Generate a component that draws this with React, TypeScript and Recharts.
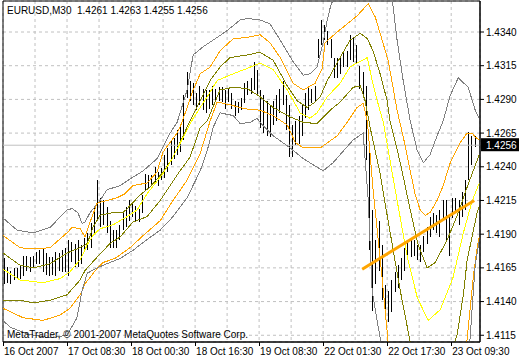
import {
  ComposedChart,
  Bar,
  Line,
  XAxis,
  YAxis,
  CartesianGrid,
  ReferenceLine,
  ReferenceArea,
} from 'recharts';

const SYMBOL = 'EURUSD,M30';
const LAST_OHLC = ['1.4261', '1.4263', '1.4255', '1.4256'];
const LAST_PRICE = 1.4256;
const COPYRIGHT = 'MetaTrader, © 2001-2007 MetaQuotes Software Corp.';

// one entry per M30 bar, left to right
const BAR_HIGH = [
  1.4172, 1.4166, 1.4163, 1.4165, 1.4165, 1.4167, 1.4174, 1.4174, 1.4173, 1.4174,
  1.4177, 1.4178, 1.418, 1.4176, 1.4173, 1.4173, 1.4177, 1.4176, 1.4178, 1.418,
  1.4186, 1.4184, 1.4183, 1.4186, 1.4182, 1.4187, 1.4191, 1.4198, 1.4211, 1.423,
  1.4217, 1.4215, 1.421, 1.42, 1.4193, 1.4193, 1.4197, 1.4206, 1.421, 1.4215,
  1.4213, 1.4211, 1.4209, 1.4219, 1.4235, 1.4234, 1.4234, 1.424, 1.4236, 1.4239,
  1.4249, 1.4254, 1.426, 1.4261, 1.4267, 1.4272, 1.4293, 1.431, 1.4304, 1.4302,
  1.4295, 1.43, 1.4298, 1.4297, 1.4297, 1.43, 1.4298, 1.4299, 1.4299, 1.4297,
  1.4298, 1.4295, 1.4289, 1.4288, 1.4291, 1.4302, 1.4304, 1.4306, 1.4318, 1.4312,
  1.4297, 1.4293, 1.4289, 1.4286, 1.4289, 1.4293, 1.4298, 1.4304, 1.4293, 1.4286,
  1.4271, 1.4274, 1.4278, 1.4286, 1.4295, 1.4299, 1.4298, 1.43, 1.4335, 1.4349,
  1.4345, 1.4341, 1.4335, 1.4321, 1.4321, 1.4321, 1.4326, 1.4326, 1.4338, 1.4336,
  1.433, 1.4315, 1.431, 1.43, 1.4252, 1.4208, 1.4186, 1.42, 1.4182, 1.4152,
  1.4148, 1.4156, 1.4162, 1.4167, 1.4172, 1.418, 1.4184, 1.4187, 1.4186, 1.4182,
  1.4182, 1.4189, 1.4195, 1.4203, 1.4206, 1.4204, 1.4208, 1.4215, 1.4215, 1.4204,
  1.4217, 1.4217, 1.4215, 1.4221, 1.423, 1.4266, 1.4263, 1.4263,
];

const BAR_LOW = [
  1.4153, 1.4154, 1.4153, 1.4156, 1.4157, 1.4157, 1.4159, 1.4163, 1.4162, 1.4165,
  1.4168, 1.4168, 1.4162, 1.416, 1.4159, 1.416, 1.4159, 1.4163, 1.4162, 1.4162,
  1.4159, 1.4169, 1.4166, 1.4166, 1.4168, 1.4177, 1.4178, 1.418, 1.4191, 1.42,
  1.4195, 1.4197, 1.4191, 1.418, 1.418, 1.418, 1.4186, 1.4193, 1.4195, 1.42,
  1.4203, 1.42, 1.4199, 1.4206, 1.4223, 1.4224, 1.4226, 1.4228, 1.4226, 1.423,
  1.4232, 1.4236, 1.4241, 1.4246, 1.4249, 1.4251, 1.426, 1.4291, 1.4289, 1.4286,
  1.4282, 1.4286, 1.4282, 1.428, 1.4283, 1.4286, 1.4288, 1.4289, 1.4288, 1.4283,
  1.4288, 1.4283, 1.4278, 1.428, 1.4282, 1.4287, 1.4293, 1.4294, 1.4297, 1.4293,
  1.4269, 1.4265, 1.4263, 1.4262, 1.4271, 1.4274, 1.428, 1.4286, 1.4267, 1.4247,
  1.4247, 1.4256, 1.4257, 1.4263, 1.4276, 1.4282, 1.4287, 1.4289, 1.4321, 1.433,
  1.4334, 1.433, 1.4321, 1.4306, 1.4306, 1.4309, 1.4314, 1.4314, 1.4319, 1.4318,
  1.4317, 1.4298, 1.4292, 1.4245, 1.4178, 1.4133, 1.4153, 1.4163, 1.4141, 1.4126,
  1.4125, 1.4132, 1.4147, 1.415, 1.4156, 1.4163, 1.4171, 1.4173, 1.4174, 1.4171,
  1.4169, 1.4177, 1.4183, 1.4188, 1.4193, 1.4191, 1.4188, 1.4202, 1.4186, 1.4174,
  1.4202, 1.4206, 1.4197, 1.4203, 1.4208, 1.423, 1.4241, 1.4255,
];

// indicator bands: [bar position, price]
const GRAY_UPPER: [number, number][] = [
  [0, 1.4202], [4.4, 1.4193], [9.4, 1.4191], [14.7, 1.4195], [20, 1.4208], [21.6, 1.4209],
  [23.4, 1.4206], [24.7, 1.4198], [25.6, 1.4199], [27.2, 1.4206], [30.3, 1.4215], [32.5, 1.4223],
  [36.6, 1.4226], [39.7, 1.4231], [43.8, 1.4237], [48.1, 1.4246], [52.2, 1.4265], [54.4, 1.4273],
  [57.5, 1.4297], [59.4, 1.4323], [62.5, 1.4329], [66.9, 1.4336], [70, 1.4341], [74.1, 1.4349],
  [76.3, 1.435], [80.3, 1.4349], [83.4, 1.4346], [86.6, 1.4334], [90.6, 1.4318], [93.8, 1.4308],
  [95.9, 1.4309], [98.1, 1.4314], [100, 1.4332], [101.3, 1.4349], [102.2, 1.4358], [104.7, 1.4375],
  [108.4, 1.4393], [113.1, 1.4401], [117.8, 1.4386], [121.6, 1.4364], [123.1, 1.4334], [125, 1.4304],
  [127.2, 1.4274], [129.4, 1.4252], [131.3, 1.4243], [133.4, 1.4249], [135.6, 1.4263], [137.5, 1.4274],
  [139.7, 1.4293], [142.2, 1.4306], [145.3, 1.4299], [147.5, 1.4282], [148.8, 1.4276],
];

const ORANGE_UPPER: [number, number][] = [
  [0, 1.4189], [5.3, 1.418], [9.4, 1.4179], [14.7, 1.418], [20, 1.4191], [21.6, 1.4195],
  [24.1, 1.4194], [25.6, 1.4188], [27.2, 1.4199], [29.4, 1.4213], [32.5, 1.4215], [35.6, 1.4217],
  [38.1, 1.422], [40.6, 1.4226], [45, 1.4228], [48.1, 1.4236], [50, 1.4251], [54.4, 1.4265],
  [55.9, 1.4273], [57.8, 1.4286], [59.4, 1.4297], [61.6, 1.4309], [64.7, 1.4314], [67.8, 1.4326],
  [71.9, 1.4335], [76.3, 1.4336], [80.3, 1.4338], [83.4, 1.4332], [86.6, 1.4321], [90.6, 1.4302],
  [93.8, 1.4297], [97.5, 1.4302], [99.7, 1.4313], [100.6, 1.4332], [104.4, 1.434], [107.5, 1.4346],
  [110.6, 1.4352], [114.1, 1.4361], [116.3, 1.4351], [117.8, 1.4339], [120.3, 1.4319], [121.6, 1.4302],
  [123.1, 1.4282], [125.6, 1.4256], [127.2, 1.4237], [128.8, 1.4219], [130.3, 1.4208], [131.9, 1.4204],
  [133.4, 1.4206], [135.6, 1.4215], [137.5, 1.4226], [139.7, 1.4243], [142.8, 1.4258], [145, 1.4265],
  [146.6, 1.4265], [147.5, 1.4262], [148.8, 1.426],
];

const OLIVE_UPPER: [number, number][] = [
  [0, 1.4176], [5.3, 1.4167], [9.4, 1.4165], [14.7, 1.4168], [20, 1.4176], [24.1, 1.418],
  [26.3, 1.4183], [28.1, 1.4195], [30.3, 1.4204], [34.4, 1.4206], [37.5, 1.4206], [38.8, 1.4209],
  [42.8, 1.4219], [45.9, 1.4225], [50, 1.4236], [53.1, 1.4247], [55.9, 1.4261], [58.4, 1.4274],
  [61.6, 1.4289], [64.7, 1.4304], [67.8, 1.4314], [70.9, 1.4321], [76.3, 1.4323], [80.3, 1.4325],
  [84.4, 1.4319], [88.8, 1.43], [91.9, 1.4289], [95, 1.4284], [97.5, 1.4288], [99.1, 1.4292],
  [101.3, 1.4304], [105.3, 1.4321], [108.4, 1.4334], [111.6, 1.4339], [113.8, 1.4335], [115.6, 1.4326],
  [117.8, 1.4309], [120, 1.4289], [120.9, 1.4274], [124.1, 1.4243], [127.2, 1.4208], [129.7, 1.4182],
  [132.5, 1.4165], [135, 1.4169], [138.8, 1.4186], [141.9, 1.4204], [145, 1.4225], [147.5, 1.4241],
  [148.8, 1.4249],
];

const YELLOW_MID: [number, number][] = [
  [0, 1.4164], [5.3, 1.4156], [12.5, 1.4154], [17.8, 1.4157], [20.9, 1.4162], [24.1, 1.4171],
  [26.3, 1.4182], [28.1, 1.4189], [30.3, 1.4194], [34.4, 1.4197], [38.8, 1.4203], [41.9, 1.4208],
  [45, 1.422], [50, 1.4235], [53.1, 1.4247], [56.3, 1.4262], [59.4, 1.4276], [63.8, 1.4292],
  [66.9, 1.4304], [71.9, 1.4309], [76.3, 1.4313], [80.3, 1.4317], [84.4, 1.4312], [88.8, 1.4297],
  [92.8, 1.428], [95.9, 1.4276], [98.1, 1.428], [101.3, 1.4292], [105.3, 1.4302], [108.4, 1.4314],
  [110.6, 1.4317], [113.8, 1.4321], [115.3, 1.4304], [116.9, 1.4289], [118.8, 1.4273], [122.5, 1.4223],
  [126.3, 1.4173], [129.4, 1.4143], [132.8, 1.4126], [136.6, 1.4134], [140.6, 1.4158], [143.8, 1.4191],
  [146.6, 1.4215], [148.8, 1.4228],
];

const OLIVE_LOWER: [number, number][] = [
  [0, 1.4141], [5.3, 1.4141], [9.4, 1.4139], [14.7, 1.4141], [20, 1.4145], [24.1, 1.4156],
  [25.6, 1.4163], [29.4, 1.4173], [33.4, 1.4183], [36.6, 1.4188], [40.6, 1.4199], [45, 1.4203],
  [49.1, 1.4215], [52.2, 1.4226], [55.3, 1.4237], [58.4, 1.4247], [61.6, 1.4269], [63.8, 1.4274],
  [67.8, 1.4297], [71.9, 1.4299], [76.3, 1.4298], [80.3, 1.4292], [84.4, 1.4284], [89.7, 1.4277],
  [93.8, 1.4273], [98.1, 1.4272], [102.2, 1.4282], [105.3, 1.4288], [109.4, 1.4299], [111.6, 1.43],
  [113.1, 1.4289], [114.7, 1.4269], [117.8, 1.4235], [120, 1.4204], [121.9, 1.4178], [124.1, 1.4148],
  [127.2, 1.411], [131.9, 1.4074], [136.6, 1.4074], [139.7, 1.41], [141.9, 1.4116], [143.8, 1.4145],
  [145, 1.4171], [146.6, 1.4189], [148.1, 1.4206], [148.8, 1.4211],
];

const ORANGE_LOWER: [number, number][] = [
  [0, 1.4135], [6.3, 1.4128], [12.5, 1.4126], [17.8, 1.413], [20.9, 1.4135], [24.1, 1.4145],
  [25.6, 1.4153], [28.8, 1.4163], [31.3, 1.4169], [35, 1.4172], [39.7, 1.418], [43.8, 1.4189],
  [49.1, 1.42], [53.1, 1.4215], [57.5, 1.423], [61.6, 1.425], [64.7, 1.4274], [66.9, 1.4288],
  [70.9, 1.4286], [75.6, 1.4283], [80.3, 1.4282], [84.4, 1.4278], [88.8, 1.4271], [91.3, 1.4258],
  [93.8, 1.4254], [99.1, 1.4254], [104.4, 1.4263], [107.8, 1.4274], [110.6, 1.4284], [112.5, 1.4287],
  [113.8, 1.4274], [115.6, 1.4223], [118.4, 1.4158], [120.3, 1.411], [124.1, 1.4052], [136.6, 1.4037],
  [143.8, 1.4082], [145, 1.4113], [146.9, 1.4158], [148.1, 1.418], [148.8, 1.4188],
];

const GRAY_LOWER: [number, number][] = [
  [0, 1.4126], [2.2, 1.4121], [7.5, 1.4116], [14.7, 1.4113], [20, 1.4115], [23.1, 1.4128],
  [24.7, 1.4148], [26.3, 1.4161], [29.4, 1.4165], [33.4, 1.4169], [36.6, 1.4172], [40.6, 1.4178],
  [45, 1.4186], [49.1, 1.4193], [53.1, 1.4203], [57.5, 1.4217], [61.6, 1.4237], [63.8, 1.4252],
  [65.6, 1.4269], [67.8, 1.428], [71.9, 1.4278], [74.1, 1.4272], [77.2, 1.4273], [79.4, 1.4276],
  [80.3, 1.4273], [84.4, 1.4263], [89.7, 1.4254], [93.8, 1.4246], [100, 1.4237], [103.1, 1.4243],
  [105.3, 1.4249], [109.4, 1.426], [112.5, 1.4265], [114.1, 1.4215], [115.3, 1.4148], [117.8, 1.4113],
  [120.9, 1.4052], [133.4, 1.4015], [144.4, 1.4067], [145.9, 1.4113], [147.5, 1.4167], [148.8, 1.4186],
];

const TREND: [number, number][] = [[112.2, 1.4164], [147.2, 1.4215]];

const TIME_LABELS = [
  '16 Oct 2007', '17 Oct 08:30', '18 Oct 00:30', '18 Oct 16:30',
  '19 Oct 08:30', '22 Oct 01:30', '22 Oct 17:30', '23 Oct 09:30',
];
const GRID_X = [0, 10, 20, 30, 40, 50, 60, 70, 80, 90, 100, 110, 120, 130, 140];
const PRICE_TICKS = [1.4115, 1.414, 1.4165, 1.419, 1.4215, 1.424, 1.4265, 1.429, 1.4315, 1.434];

const X_MAX = 149;
const Y_MIN = 1.411;
const Y_MAX = 1.4363;
const FONT = '"Liberation Sans", Arial, sans-serif';

const bars = BAR_HIGH.map((h, i) => ({ x: i + 0.5, hl: [BAR_LOW[i], h] }));
const toPts = (arr: [number, number][]) => arr.map(([x, p]) => ({ x, p }));

const bands = [
  { key: 'grayU', pts: GRAY_UPPER, color: '#808080' },
  { key: 'orangeU', pts: ORANGE_UPPER, color: '#FFA500' },
  { key: 'oliveU', pts: OLIVE_UPPER, color: '#808000' },
  { key: 'yellow', pts: YELLOW_MID, color: '#FFFF00' },
  { key: 'oliveL', pts: OLIVE_LOWER, color: '#808000' },
  { key: 'orangeL', pts: ORANGE_LOWER, color: '#FFA500' },
  { key: 'grayL', pts: GRAY_LOWER, color: '#808080' },
];

const HLBar = (props: any) => {
  const { x, y, width, height } = props;
  if (x == null || y == null) return null;
  const cx = x + width / 2;
  return <line x1={cx} x2={cx} y1={y} y2={y + height} stroke="#000" strokeWidth={1} shapeRendering="crispEdges" />;
};

const TimeTick = (props: any) => {
  const { x, y, payload } = props;
  const k = payload.value / 20;
  if (!Number.isInteger(k) || !TIME_LABELS[k]) return null;
  return (
    <g>
      <line x1={x} x2={x} y1={y} y2={y + 4} stroke="#000" shapeRendering="crispEdges" />
      <text x={x + 1} y={y + 13} fontSize={10} fontFamily={FONT} fill="#000">
        {TIME_LABELS[k]}
      </text>
    </g>
  );
};

const PriceTag = (props: any) => {
  const { viewBox } = props;
  if (!viewBox) return null;
  const right = viewBox.x + viewBox.width;
  return (
    <g>
      <rect x={right + 1} y={viewBox.y - 7} width={38} height={13} fill="#000" />
      <text x={right + 6} y={viewBox.y + 3.5} fontSize={10} fontFamily={FONT} fill="#fff">
        {LAST_PRICE.toFixed(4)}
      </text>
    </g>
  );
};

export default function App() {
  return (
    <div style={{ position: 'absolute', left: 0, top: 0, width: 520, height: 360, background: '#fff' }}>
      <ComposedChart
        width={520}
        height={360}
        data={bars}
        margin={{ top: 1, right: 0, bottom: 0, left: 3 }}
      >
        <CartesianGrid stroke="#c0c0c0" strokeDasharray="3 3" />
        <XAxis
          dataKey="x"
          type="number"
          domain={[0, X_MAX]}
          ticks={GRID_X}
          interval={0}
          allowDataOverflow
          height={18}
          tickSize={0}
          tickMargin={0}
          tickLine={false}
          axisLine={{ stroke: '#000' }}
          tick={<TimeTick />}
        />
        <YAxis
          orientation="right"
          type="number"
          domain={[Y_MIN, Y_MAX]}
          ticks={PRICE_TICKS}
          interval={0}
          allowDataOverflow
          width={40}
          tickSize={4}
          tickMargin={2}
          tickLine={{ stroke: '#000' }}
          axisLine={{ stroke: '#000' }}
          tick={{ fill: '#000', fontSize: 10, fontFamily: FONT }}
          tickFormatter={(v: number) => v.toFixed(4)}
        />
        <ReferenceArea x1={0} x2={X_MAX} y1={Y_MIN} y2={Y_MAX} fill="none" stroke="#000" />
        <ReferenceLine y={LAST_PRICE} stroke="#c0c0c0" label={<PriceTag />} />
        <Bar dataKey="hl" barSize={1} shape={<HLBar />} isAnimationActive={false} />
        {bands.map((b) => (
          <Line
            key={b.key}
            data={toPts(b.pts)}
            dataKey="p"
            type="linear"
            stroke={b.color}
            strokeWidth={1}
            shapeRendering="crispEdges"
            dot={false}
            activeDot={false}
            isAnimationActive={false}
          />
        ))}
        <Line
          data={toPts(TREND)}
          dataKey="p"
          type="linear"
          stroke="#FFA500"
          strokeWidth={3}
          dot={false}
          activeDot={false}
          isAnimationActive={false}
        />
      </ComposedChart>
      <div style={{ position: 'absolute', left: 7, top: 5, fontFamily: FONT, fontSize: 10, lineHeight: '12px', whiteSpace: 'pre', color: '#000' }}>
        {SYMBOL + '  ' + LAST_OHLC.join(' ')}
      </div>
      <div style={{ position: 'absolute', left: 7, top: 329, fontFamily: FONT, fontSize: 10, lineHeight: '12px', whiteSpace: 'pre', color: '#000' }}>
        {COPYRIGHT}
      </div>
    </div>
  );
}
